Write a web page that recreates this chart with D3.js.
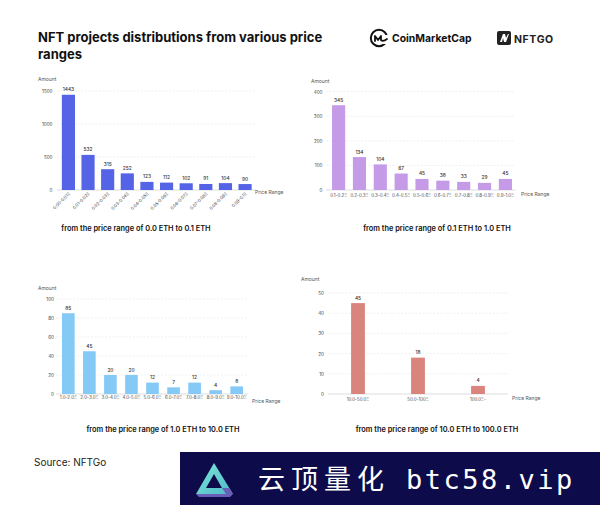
<!DOCTYPE html>
<html><head><meta charset="utf-8">
<script src="https://cdn.jsdelivr.net/npm/d3@7/dist/d3.min.js"></script>
<style>body{margin:0;background:#fff;}svg{display:block;font-family:Inter,"Noto Sans",sans-serif;}</style>
</head><body><svg id="c" width="600" height="505"></svg>
<script>
const cats1 = ["0.00-0.01Ξ","0.01-0.02Ξ","0.02-0.03Ξ","0.03-0.04Ξ","0.04-0.05Ξ","0.05-0.06Ξ","0.06-0.07Ξ","0.07-0.08Ξ","0.08-0.09Ξ","0.09-0.1Ξ"];
const vals1 = [1443,532,315,252,123,112,102,91,104,90];
const ticks1 = [0,500,1000,1500];
const cats2 = ["0.1-0.2Ξ","0.2-0.3Ξ","0.3-0.4Ξ","0.4-0.5Ξ","0.5-0.6Ξ","0.6-0.7Ξ","0.7-0.8Ξ","0.8-0.9Ξ","0.9-1.0Ξ"];
const vals2 = [345,134,104,67,45,38,33,29,45];
const ticks2 = [0,100,200,300,400];
const cats3 = ["1.0-2.0Ξ","2.0-3.0Ξ","3.0-4.0Ξ","4.0-5.0Ξ","5.0-6.0Ξ","6.0-7.0Ξ","7.0-8.0Ξ","8.0-9.0Ξ","9.0-10.0Ξ"];
const vals3 = [85,45,20,20,12,7,12,4,8];
const ticks3 = [0,20,40,60,80,100];
const cats4 = ["10.0-50.0Ξ","50.0-100Ξ","100.0Ξ-"];
const vals4 = [45,18,4];
const ticks4 = [0,10,20,30,40,50];
const subtitles = ["from the price range of 0.0 ETH to 0.1 ETH","from the price range of 0.1 ETH to 1.0 ETH","from the price range of 1.0 ETH to 10.0 ETH","from the price range of 10.0 ETH to 100.0 ETH"];

const svg = d3.select("#c");
svg.append("rect").attr("width",600).attr("height",505).attr("fill","#fff");

// title
const t = svg.append("text").attr("x",38).attr("y",42).attr("font-size",13).attr("font-weight",700).attr("fill","#111");
t.append("tspan").attr("x",38).text("NFT projects distributions from various price");
t.append("tspan").attr("x",38).attr("dy",16.5).text("ranges");

// logos
const cmc = svg.append("g").attr("transform","translate(379,38)");
cmc.append("circle").attr("r",8.2).attr("fill","none").attr("stroke","#111").attr("stroke-width",2);
cmc.append("rect").attr("x",4).attr("y",-3).attr("width",8).attr("height",9).attr("fill","#fff");
cmc.append("path").attr("d","M-4,3 L-4,-2 L-1,2 L2,-2 L2,2 Q4,4 8,1").attr("fill","none").attr("stroke","#111").attr("stroke-width",1.8).attr("stroke-linejoin","round").attr("stroke-linecap","round");
svg.append("text").attr("x",392).attr("y",42).attr("font-size",10.4).attr("font-weight",700).attr("fill","#111").text("CoinMarketCap");
svg.append("rect").attr("x",497).attr("y",31).attr("width",14).attr("height",14).attr("rx",2).attr("fill","#222");
svg.append("path").attr("d","M500,42 L503,34 L505,34 L506,38 L508,34 L509,34 L506,42 L504,42 L503,38 L502,42 Z").attr("fill","#fff");
svg.append("text").attr("x",514).attr("y",42.5).attr("font-size",10.5).attr("font-weight",700).attr("letter-spacing",0.6).attr("fill","#222").text("NFTGO");

function panel(o){
  const g = svg.append("g");
  const y = d3.scaleLinear().domain([0,o.ymax]).range([o.y0,o.y1]);
  const x = d3.scaleBand().domain(o.cats).range([o.x0,o.x1]).paddingInner(o.pi).paddingOuter(o.po);
  g.selectAll(".gr").data(o.ticks.filter(d=>d>0)).enter().append("line")
    .attr("x1",o.gx0).attr("x2",o.gx1).attr("y1",d=>y(d)).attr("y2",d=>y(d))
    .attr("stroke","#e6e6e6").attr("stroke-width",0.6).attr("stroke-dasharray","2,1.5");
  g.append("line").attr("x1",o.gx0).attr("x2",o.gx1).attr("y1",y(0)).attr("y2",y(0)).attr("stroke","#cfcfcf").attr("stroke-width",0.7);
  const ax = d3.axisLeft(y).tickValues(o.ticks).tickFormat(d3.format("d")).tickSize(0).tickPadding(0);
  const ag = g.append("g").attr("transform",`translate(${o.tx},0)`).call(ax);
  ag.select(".domain").remove();
  ag.selectAll("text").attr("font-size",4.6).attr("fill","#444").attr("font-family","Inter");
  g.append("text").attr("x",o.ax).attr("y",o.ay).attr("font-size",5).attr("fill","#555").text("Amount");
  g.append("text").attr("x",o.px).attr("y",y(0)+ (o.pdy||4)).attr("font-size",5).attr("fill","#555").text("Price Range");
  g.selectAll(".bar").data(o.vals).enter().append("rect")
    .attr("x",(d,i)=>x(o.cats[i])).attr("width",x.bandwidth())
    .attr("y",d=>y(d)).attr("height",d=>y(0)-y(d)).attr("fill",o.color);
  g.selectAll(".vl").data(o.vals).enter().append("text")
    .attr("x",(d,i)=>x(o.cats[i])+x.bandwidth()/2).attr("y",d=>y(d)-3.5)
    .attr("text-anchor","middle").attr("font-size",4.8).attr("font-weight",500).attr("fill","#333").text(d=>d);
  o.cats.forEach((c,i)=>{
    const cx = x(c)+x.bandwidth()/2;
    if(o.rot){
      g.append("text").attr("transform",`translate(${cx+2},${y(0)+4}) rotate(-45)`)
        .attr("text-anchor","end").attr("font-size",4.3).attr("fill","#444").text(c);
    } else {
      g.append("text").attr("x",cx).attr("y",y(0)+o.ldy).attr("text-anchor","middle").attr("font-size",4.4).attr("fill","#444").text(c);
    }
  });
  g.append("text").attr("x",o.sx).attr("y",o.sy).attr("text-anchor","middle").attr("font-size",7.4).attr("font-weight",600).attr("fill","#111").text(o.sub);
}

panel({cats:cats1,vals:vals1,ticks:ticks1,ymax:1500,y0:190,y1:91,x0:58.5,x1:255,pi:0.33,po:0.17,gx0:57,gx1:256,tx:52.5,ax:38,ay:81,px:255,pdy:4,color:"#5563e6",rot:true,sx:136,sy:231,sub:subtitles[0]});
panel({cats:cats2,vals:vals2,ticks:ticks2,ymax:400,y0:190,y1:91.7,x0:328.5,x1:515.5,pi:0.37,po:0.17,gx0:326,gx1:515,tx:322.5,ax:311,ay:83,px:521,pdy:6,color:"#c59be8",rot:false,ldy:6.5,sx:437,sy:231,sub:subtitles[1]});
panel({cats:cats3,vals:vals3,ticks:ticks3,ymax:100,y0:394,y1:299,x0:58,x1:247,pi:0.4,po:0.19,gx0:56,gx1:248,tx:54,ax:38,ay:290,px:252,pdy:9,color:"#85c9f7",rot:false,ldy:5,sx:163,sy:432,sub:subtitles[2]});
panel({cats:cats4,vals:vals4,ticks:ticks4,ymax:50,y0:394,y1:293,x0:328,x1:508,pi:0.77,po:0.385,gx0:328,gx1:508,tx:324,ax:301,ay:281,px:512,pdy:6,color:"#d9847d",rot:false,ldy:6.5,sx:437,sy:432,sub:subtitles[3]});

svg.append("text").attr("x",34).attr("y",466).attr("font-size",10).attr("fill","#222").text("Source: NFTGo");

// banner
svg.append("rect").attr("x",180).attr("y",452).attr("width",420).attr("height",53).attr("fill","#0e0b4b");
const defs = svg.append("defs");
const lg = defs.append("linearGradient").attr("id","tg").attr("x1","0").attr("y1","0").attr("x2","1").attr("y2","1");
lg.append("stop").attr("offset","0").attr("stop-color","#7fe6d6");
lg.append("stop").attr("offset","1").attr("stop-color","#4fb9c9");
svg.append("path").attr("d","M214,463 L233,494 L196,494 Z M214,474 L206,488 L222,488 Z").attr("fill-rule","evenodd").attr("fill","url(#tg)");
svg.append("path").attr("d","M222,488 L229,488 L233,494 L226,494 Z M196,494 L226,494 L233,494 L230,497 L199,497 Z").attr("fill","#6a5fb8");
svg.append("text").attr("x",258).attr("y",489).attr("font-size",27).attr("fill","#fff").attr("letter-spacing",6).attr("font-family","'Noto Sans CJK SC'").text("云顶量化");
svg.append("text").attr("x",406).attr("y",489).attr("font-size",27).attr("fill","#fff").attr("letter-spacing",2.5).attr("font-family","'DejaVu Sans Mono'").text("btc58.vip");
</script></body></html>
